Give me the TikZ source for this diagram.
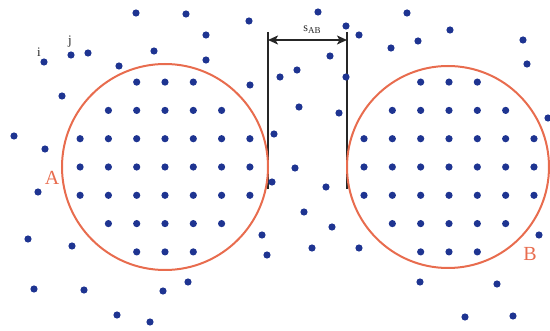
\documentclass[tikz,border=0pt]{standalone}
\usepackage{fontspec}
\setmainfont{Liberation Serif}
\usetikzlibrary{arrows.meta}
\definecolor{dotblue}{RGB}{30,52,145}
\definecolor{ringred}{RGB}{232,108,78}
\begin{document}
\begin{tikzpicture}[x=1pt,y=-1pt,
  dot/.style={circle,fill=dotblue,inner sep=0pt,minimum size=7.2pt},
  ring/.style={circle,draw=ringred,line width=2pt,inner sep=0pt},
  ringlabel/.style={text=ringred,font=\fontsize{20}{22}\selectfont,inner sep=0pt},
  ptlabel/.style={font=\fontsize{13}{15}\selectfont,inner sep=0pt,text=black!85},
  guide/.style={line width=1.1pt,draw=black!85}]
\useasboundingbox (0,0) rectangle (550,331);
% guide lines and distance arrow
\coordinate (lt) at (268,32);
\coordinate (lb) at (268,189);
\coordinate (rt) at (347,32);
\coordinate (rb) at (347,189);
\coordinate (al) at (268,40);
\coordinate (ar) at (347,40);
\draw[guide] (lt) -- (lb);
\draw[guide] (rt) -- (rb);
\draw[guide,line width=1.5pt,{Stealth[length=10pt,width=9pt,inset=2.5pt]}-{Stealth[length=10pt,width=9pt,inset=2.5pt]}] (al) -- (ar);
\node[font=\fontsize{12}{14}\selectfont,inner sep=0pt,text=black!85] (sab) at (312,30) {s\raisebox{-0.35ex}{\fontsize{9}{10}\selectfont AB}};
% circles
\node[ring,minimum size=206pt] (A) at (165,167) {};
\node[ring,minimum size=202pt] (B) at (448,167) {};
\node[ringlabel] (la) at (52,178) {A};
\node[ringlabel] (lB) at (530,254) {B};
% grids
\foreach \m in {-3,...,3}{
  \foreach \k in {-3,...,3}{
    \pgfmathtruncatemacro\d{\k*\k+\m*\m}
    \pgfmathtruncatemacro\ii{\k+3}
    \pgfmathtruncatemacro\jj{\m+3}
    \ifnum\d<11
      \node[dot] (a\ii\jj) at ({165+28.3*\k},{167+28.3*\m}) {};
      \node[dot] (b\ii\jj) at ({449+28.33*\k},{167+28.3*\m}) {};
    \fi
  }
}
% scattered particles
\foreach \x/\y [count=\n] in {136/13,186/14,249/21,206/35,71/55,88/53,154/51,44/62,206/60,119/66,62/96,250/85,14/136,45/149,274/134,
318/12,407/13,346/26,359/35,450/30,418/41,523/40,391/48,330/56,527/64,297/70,280/77,346/77,299/107,339/113,548/118,
38/192,28/239,72/246,262/235,267/255,34/289,84/290,163/291,188/282,117/315,150/322,272/182,
295/168,326/187,304/212,332/227,312/248,359/248,539/235,420/282,497/284,465/317,513/316}{
  \node[dot] (p\n) at (\x,\y) {};
}
\node[ptlabel] (li) at (39,52) {i};
\node[ptlabel] (lj) at (70,42) {j};
\end{tikzpicture}
\end{document}
